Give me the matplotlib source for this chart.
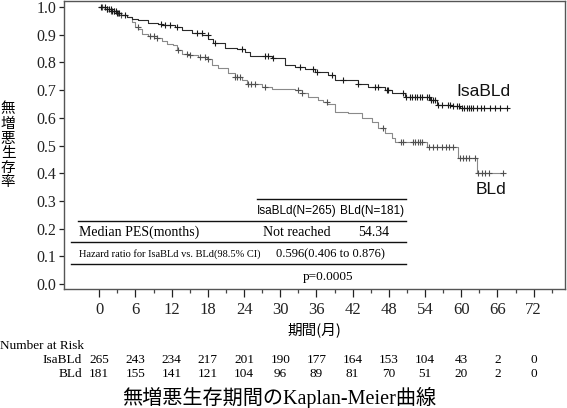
import numpy as np
import matplotlib
matplotlib.use("Agg")
import matplotlib.pyplot as plt
from matplotlib import transforms

# ---------------- data ----------------
months_isa = [0, 0.95, 1.94, 2.77, 3.6, 4.59, 5.42, 6.42, 8.08, 9.73, 10.4, 12.55, 13.7, 15.37, 17.03,
              18.02, 18.85, 20.85, 22.84, 24.16, 25.0, 28.65, 30.8, 32.5, 34.1, 35.8, 37.9, 39.1, 42.9,
              44.6, 47.4, 48.5, 50.7, 54.8, 56.0, 58.6, 59.8]
surv_isa = [1.0, 0.993, 0.986, 0.978, 0.971, 0.964, 0.958, 0.953, 0.942, 0.939, 0.935, 0.928, 0.917,
            0.906, 0.899, 0.885, 0.870, 0.852, 0.848, 0.838, 0.823, 0.816, 0.790, 0.783, 0.776, 0.765,
            0.755, 0.736, 0.722, 0.711, 0.700, 0.690, 0.675, 0.664, 0.646, 0.643, 0.635]
end_isa = 67.6

months_bld = [0, 0.95, 1.94, 2.77, 3.6, 4.59, 5.42, 5.92, 6.42, 7.08, 8.08, 9.57, 10.4, 11.25, 12.2,
              12.9, 13.7, 14.7, 16.4, 17.9, 18.7, 19.7, 21.3, 22.5, 23.7, 24.5, 27.0, 28.6, 32.5, 33.6,
              34.6, 36.3, 37.1, 37.8, 39.1, 41.2, 43.6, 45.2, 46.2, 47.4, 48.5, 49.0, 54.3, 59.5, 62.6]
surv_bld = [1.0, 0.993, 0.986, 0.978, 0.971, 0.964, 0.946, 0.928, 0.921, 0.903, 0.895, 0.888, 0.877,
            0.866, 0.863, 0.845, 0.830, 0.827, 0.819, 0.812, 0.790, 0.780, 0.762, 0.747, 0.736, 0.722,
            0.711, 0.704, 0.700, 0.690, 0.675, 0.664, 0.657, 0.650, 0.621, 0.617, 0.600, 0.585, 0.563,
            0.545, 0.527, 0.513, 0.495, 0.455, 0.400]
end_bld = 66.9

cens_isa = [0.3, 0.9, 1.3, 1.6, 1.9, 2.1, 2.4, 2.7, 3.0, 3.3, 4.2, 10.3, 10.9, 11.7, 12.9, 16.2, 17.0,
            18.0, 19.2, 23.7, 27.5, 27.9, 28.8, 33.3, 35.4, 36.1, 38.6, 40.4, 42.9, 45.7, 46.2, 47.7,
            47.9, 50.4, 50.9, 51.5, 51.9, 52.3, 52.7, 53.2, 53.5, 54.3, 54.7, 55.0, 55.3, 55.7, 56.2,
            56.8, 57.8, 58.2, 58.6, 59.3, 59.7, 60.1, 60.5, 60.9, 61.3, 61.7, 62.0, 62.6, 63.2, 63.8,
            64.8, 65.6, 66.4, 67.6]
cens_bld = [0.5, 1.2, 2.0, 2.5, 3.1, 3.6, 6.4, 8.4, 9.0, 9.6, 13.0, 14.5, 15.0, 16.7, 17.5, 18.0,
            22.5, 22.8, 23.3, 24.6, 25.2, 25.8, 27.5, 32.9, 33.6, 37.7, 47.0, 50.0, 50.4, 52.0, 52.4,
            52.8, 53.2, 53.5, 54.6, 55.3, 56.0, 56.8, 57.4, 58.0, 58.6, 59.8, 60.3, 60.8, 61.3, 62.3,
            62.8, 63.5, 64.0, 64.6, 66.9]

risk_times = [0, 6, 12, 18, 24, 30, 36, 42, 48, 54, 60, 66, 72]
risk_isa = [265, 243, 234, 217, 201, 190, 177, 164, 153, 104, 43, 2, 0]
risk_bld = [181, 155, 141, 121, 104, 96, 89, 81, 70, 51, 20, 2, 0]

y_ticks = [0.0, 0.1, 0.2, 0.3, 0.4, 0.5, 0.6, 0.7, 0.8, 0.9, 1.0]

# ---------------- figure ----------------
W, H = 567, 408
fig = plt.figure(figsize=(W / 100, H / 100), dpi=100)
L, R, T, B = 64.3, 565.0, 1.0, 289.3
ax = fig.add_axes([L / W, 1 - B / H, (R - L) / W, (B - T) / H])

SERIF = 'Liberation Serif'
CJK = 'Noto Sans CJK JP'


def km(ax, t, s, end, cens, lc, mc):
    tt = list(t) + [end]
    ss = list(s) + [s[-1]]
    ax.step(tt, ss, where='post', color=lc, lw=0.8)
    ta = np.asarray(t)
    sa = np.asarray(s)
    idx = np.searchsorted(ta, np.asarray(cens), side='right') - 1
    ax.plot(cens, sa[idx], ls='none', marker='+', ms=5, mew=0.8, color=mc)


km(ax, months_bld, surv_bld, end_bld, cens_bld, '#8a8a8a', '#505050')
km(ax, months_isa, surv_isa, end_isa, cens_isa, '#2a2a2a', '#1a1a1a')

ax.set_xlim(-5.8, 77.2)
ax.set_ylim(-0.019, 1.0217)
ax.set_xticks(risk_times)
ax.set_xticks(np.arange(3, 78, 6), minor=True)
ax.set_yticks(y_ticks)
ax.set_yticklabels([f"{v:.1f}" for v in y_ticks], fontfamily=SERIF, fontsize=11.5)
ax.set_xticklabels([str(v) for v in risk_times], fontfamily=SERIF, fontsize=12)
ax.tick_params(axis='x', which='major', length=5.5, width=0.9, pad=4, colors='#222222')
ax.tick_params(axis='x', which='minor', length=3, width=0.9, colors='#444444')
ax.tick_params(axis='y', which='major', length=3.6, width=0.9, pad=2, colors='#222222')
for sp in ax.spines.values():
    sp.set_color('#555555')
    sp.set_linewidth(1.0)


def px(x, y):
    return (x / W, 1 - y / H)


# curve labels
fig.text(*px(483, 91), 'IsaBLd', fontfamily='Liberation Sans', fontsize=12.5, ha='center', va='center', color='#111111')
fig.text(*px(491, 190), 'BLd', fontfamily='Liberation Sans', fontsize=12.5, ha='center', va='center', color='#111111')


# summary table drawn inside the plot area
def hline(y, x0, x1):
    fig.add_artist(plt.Line2D([x0 / W, x1 / W], [1 - y / H, 1 - y / H], color='#111111', lw=1.0))


hline(199, 256.7, 405.7)
hline(220.7, 77.7, 405.7)
hline(242.3, 70.7, 405.7)
hline(264.3, 70.7, 405.7)

fig.text(*px(297, 211), 'IsaBLd(N=265)', fontfamily='Liberation Sans', fontsize=8.5, ha='center', va='center')
fig.text(*px(372, 211), 'BLd(N=181)', fontfamily='Liberation Sans', fontsize=8.5, ha='center', va='center')
fig.text(*px(79, 232.5), 'Median PES(months)', fontfamily=SERIF, fontsize=10, ha='left', va='center')
fig.text(*px(296.7, 232.5), 'Not reached', fontfamily=SERIF, fontsize=10, ha='center', va='center')
fig.text(*px(374, 232.5), '54.34', fontfamily=SERIF, fontsize=10, ha='center', va='center')
fig.text(*px(79, 254), 'Hazard ratio for IsaBLd vs. BLd(98.5% CI)', fontfamily=SERIF, fontsize=7.5,
         ha='left', va='center')
fig.text(*px(330.5, 254), '0.596(0.406 to 0.876)', fontfamily=SERIF, fontsize=9, ha='center', va='center')
fig.text(*px(328.5, 277), 'p=0.0005', fontfamily=SERIF, fontsize=9.5, ha='center', va='center')

# axis labels
fig.text(*px(8, 146), '\n'.join('無増悪生存率'), fontfamily=CJK, fontsize=10.5, ha='center', va='center',
         linespacing=1.05)
fig.text(*px(314.7, 330), '期間(月)', fontfamily=CJK, fontsize=10.5, ha='center', va='center')

# number at risk
fig.text(*px(0, 346), 'Number at Risk', fontfamily=SERIF, fontsize=9.5, ha='left', va='center')
fig.text(*px(82, 360), 'IsaBLd', fontfamily=SERIF, fontsize=9.5, ha='right', va='center')
fig.text(*px(82, 374), 'BLd', fontfamily=SERIF, fontsize=9.5, ha='right', va='center')
trans = transforms.blended_transform_factory(ax.transData, fig.transFigure)
for t, a, b in zip(risk_times, risk_isa, risk_bld):
    fig.text(t, 1 - 360 / H, str(a), transform=trans, fontfamily=SERIF, fontsize=9.5, ha='center', va='center')
    fig.text(t, 1 - 374 / H, str(b), transform=trans, fontfamily=SERIF, fontsize=9.5, ha='center', va='center')

# title
fig.text(*px(279, 397.5), '無増悪生存期間のKaplan-Meier曲線', fontfamily=[SERIF, CJK], fontsize=14.5,
         ha='center', va='center')

fig.savefig('out.png', dpi=100)
